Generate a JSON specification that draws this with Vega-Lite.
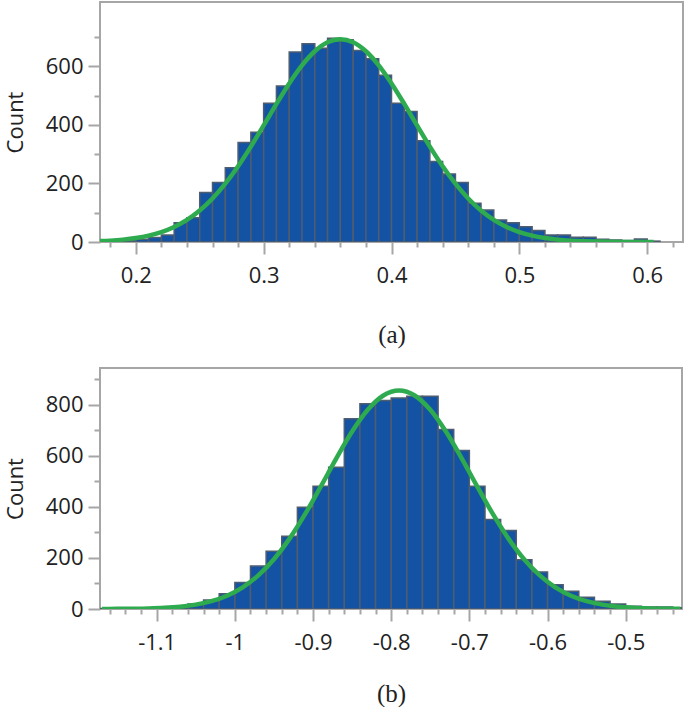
{
  "$schema": "https://vega.github.io/schema/vega-lite/v6.json",
  "padding": {"left": 3, "top": 1, "right": 2, "bottom": 0},
  "spacing": 19,
  "config": {
    "view": {"stroke": "#a6a6a6", "strokeWidth": 2},
    "axis": {
      "domain": false, "grid": false,
      "tickColor": "#a6a6a6", "tickWidth": 2,
      "labelFont": "Open Sans", "labelFontSize": 22, "labelColor": "#222222",
      "titleFont": "Open Sans", "titleFontSize": 22, "titleFontWeight": "normal", "titleColor": "#222222"
    }
  },
  "datasets": {
    "barsA": [
      {"x0": 0.17, "x1": 0.18, "count": 2}, {"x0": 0.18, "x1": 0.19, "count": 3},
      {"x0": 0.19, "x1": 0.20, "count": 5}, {"x0": 0.20, "x1": 0.21, "count": 9},
      {"x0": 0.21, "x1": 0.22, "count": 15}, {"x0": 0.22, "x1": 0.23, "count": 24},
      {"x0": 0.23, "x1": 0.24, "count": 66}, {"x0": 0.24, "x1": 0.25, "count": 83},
      {"x0": 0.25, "x1": 0.26, "count": 169}, {"x0": 0.26, "x1": 0.27, "count": 203},
      {"x0": 0.27, "x1": 0.28, "count": 254}, {"x0": 0.28, "x1": 0.29, "count": 340},
      {"x0": 0.29, "x1": 0.30, "count": 375}, {"x0": 0.30, "x1": 0.31, "count": 474},
      {"x0": 0.31, "x1": 0.32, "count": 533}, {"x0": 0.32, "x1": 0.33, "count": 649},
      {"x0": 0.33, "x1": 0.34, "count": 677}, {"x0": 0.34, "x1": 0.35, "count": 662},
      {"x0": 0.35, "x1": 0.36, "count": 696}, {"x0": 0.36, "x1": 0.37, "count": 691},
      {"x0": 0.37, "x1": 0.38, "count": 654}, {"x0": 0.38, "x1": 0.39, "count": 626},
      {"x0": 0.39, "x1": 0.40, "count": 570}, {"x0": 0.40, "x1": 0.41, "count": 474},
      {"x0": 0.41, "x1": 0.42, "count": 446}, {"x0": 0.42, "x1": 0.43, "count": 346},
      {"x0": 0.43, "x1": 0.44, "count": 275}, {"x0": 0.44, "x1": 0.45, "count": 232},
      {"x0": 0.45, "x1": 0.46, "count": 203}, {"x0": 0.46, "x1": 0.47, "count": 132},
      {"x0": 0.47, "x1": 0.48, "count": 109}, {"x0": 0.48, "x1": 0.49, "count": 75},
      {"x0": 0.49, "x1": 0.50, "count": 66}, {"x0": 0.50, "x1": 0.51, "count": 52},
      {"x0": 0.51, "x1": 0.52, "count": 39}, {"x0": 0.52, "x1": 0.53, "count": 24},
      {"x0": 0.53, "x1": 0.54, "count": 24}, {"x0": 0.54, "x1": 0.55, "count": 16},
      {"x0": 0.55, "x1": 0.56, "count": 16}, {"x0": 0.56, "x1": 0.57, "count": 9},
      {"x0": 0.57, "x1": 0.58, "count": 7}, {"x0": 0.58, "x1": 0.59, "count": 5},
      {"x0": 0.59, "x1": 0.60, "count": 10}, {"x0": 0.60, "x1": 0.61, "count": 3}
    ],
    "curveA": [
      {"x": 0.17, "y": 2.7}, {"x": 0.18, "y": 4.7}, {"x": 0.19, "y": 8.1}, {"x": 0.20, "y": 13.5},
      {"x": 0.21, "y": 21.7}, {"x": 0.22, "y": 33.9}, {"x": 0.23, "y": 51.4}, {"x": 0.24, "y": 75.6},
      {"x": 0.25, "y": 107.7}, {"x": 0.26, "y": 148.7}, {"x": 0.27, "y": 199.2}, {"x": 0.28, "y": 258.8},
      {"x": 0.29, "y": 326.0}, {"x": 0.30, "y": 398.2}, {"x": 0.31, "y": 471.7}, {"x": 0.32, "y": 541.7},
      {"x": 0.33, "y": 603.4}, {"x": 0.34, "y": 651.6}, {"x": 0.35, "y": 682.4}, {"x": 0.36, "y": 693},
      {"x": 0.37, "y": 682.4}, {"x": 0.38, "y": 651.6}, {"x": 0.39, "y": 603.4}, {"x": 0.40, "y": 541.7},
      {"x": 0.41, "y": 471.7}, {"x": 0.42, "y": 398.2}, {"x": 0.43, "y": 326.0}, {"x": 0.44, "y": 258.8},
      {"x": 0.45, "y": 199.2}, {"x": 0.46, "y": 148.7}, {"x": 0.47, "y": 107.7}, {"x": 0.48, "y": 75.6},
      {"x": 0.49, "y": 51.4}, {"x": 0.50, "y": 33.9}, {"x": 0.51, "y": 21.7}, {"x": 0.52, "y": 13.5},
      {"x": 0.53, "y": 8.1}, {"x": 0.54, "y": 4.7}, {"x": 0.55, "y": 2.7}, {"x": 0.56, "y": 1.5},
      {"x": 0.57, "y": 0.8}, {"x": 0.58, "y": 0.4}, {"x": 0.59, "y": 0.2}, {"x": 0.60, "y": 0.1},
      {"x": 0.605, "y": 0.07}
    ],
    "barsB": [
      {"x0": -1.18, "x1": -1.16, "count": 2}, {"x0": -1.16, "x1": -1.14, "count": 4},
      {"x0": -1.14, "x1": -1.12, "count": 5}, {"x0": -1.12, "x1": -1.10, "count": 5},
      {"x0": -1.10, "x1": -1.08, "count": 8}, {"x0": -1.08, "x1": -1.06, "count": 12},
      {"x0": -1.06, "x1": -1.04, "count": 20}, {"x0": -1.04, "x1": -1.02, "count": 35},
      {"x0": -1.02, "x1": -1.00, "count": 60}, {"x0": -1.00, "x1": -0.98, "count": 104},
      {"x0": -0.98, "x1": -0.96, "count": 168}, {"x0": -0.96, "x1": -0.94, "count": 226},
      {"x0": -0.94, "x1": -0.92, "count": 285}, {"x0": -0.92, "x1": -0.90, "count": 398},
      {"x0": -0.90, "x1": -0.88, "count": 480}, {"x0": -0.88, "x1": -0.86, "count": 555},
      {"x0": -0.86, "x1": -0.84, "count": 744}, {"x0": -0.84, "x1": -0.82, "count": 803},
      {"x0": -0.82, "x1": -0.80, "count": 816}, {"x0": -0.80, "x1": -0.78, "count": 826},
      {"x0": -0.78, "x1": -0.76, "count": 832}, {"x0": -0.76, "x1": -0.74, "count": 832},
      {"x0": -0.74, "x1": -0.72, "count": 702}, {"x0": -0.72, "x1": -0.70, "count": 620},
      {"x0": -0.70, "x1": -0.68, "count": 480}, {"x0": -0.68, "x1": -0.66, "count": 350},
      {"x0": -0.66, "x1": -0.64, "count": 307}, {"x0": -0.64, "x1": -0.62, "count": 193},
      {"x0": -0.62, "x1": -0.60, "count": 145}, {"x0": -0.60, "x1": -0.58, "count": 95},
      {"x0": -0.58, "x1": -0.56, "count": 69}, {"x0": -0.56, "x1": -0.54, "count": 46},
      {"x0": -0.54, "x1": -0.52, "count": 30}, {"x0": -0.52, "x1": -0.50, "count": 20},
      {"x0": -0.50, "x1": -0.48, "count": 11}, {"x0": -0.48, "x1": -0.46, "count": 8},
      {"x0": -0.46, "x1": -0.44, "count": 8}, {"x0": -0.44, "x1": -0.42, "count": 5}
    ],
    "curveB": [
      {"x": -1.17, "y": 0.2}, {"x": -1.15, "y": 0.5}, {"x": -1.13, "y": 1.1}, {"x": -1.11, "y": 2.3},
      {"x": -1.09, "y": 4.7}, {"x": -1.07, "y": 9.2}, {"x": -1.05, "y": 17.2}, {"x": -1.03, "y": 30.6},
      {"x": -1.01, "y": 52.1}, {"x": -0.99, "y": 84.7}, {"x": -0.97, "y": 131.4}, {"x": -0.95, "y": 194.6},
      {"x": -0.93, "y": 275.4}, {"x": -0.91, "y": 371.9}, {"x": -0.89, "y": 479.6}, {"x": -0.87, "y": 590.6},
      {"x": -0.85, "y": 694.4}, {"x": -0.83, "y": 779.5}, {"x": -0.81, "y": 835.5}, {"x": -0.79, "y": 855},
      {"x": -0.77, "y": 835.5}, {"x": -0.75, "y": 779.5}, {"x": -0.73, "y": 694.4}, {"x": -0.71, "y": 590.6},
      {"x": -0.69, "y": 479.6}, {"x": -0.67, "y": 371.9}, {"x": -0.65, "y": 275.4}, {"x": -0.63, "y": 194.6},
      {"x": -0.61, "y": 131.4}, {"x": -0.59, "y": 84.7}, {"x": -0.57, "y": 52.1}, {"x": -0.55, "y": 30.6},
      {"x": -0.53, "y": 17.2}, {"x": -0.51, "y": 9.2}, {"x": -0.49, "y": 4.7}, {"x": -0.47, "y": 2.3},
      {"x": -0.45, "y": 1.1}, {"x": -0.43, "y": 0.5}
    ]
  },
  "vconcat": [
    {
      "width": 583, "height": 240,
      "resolve": {"axis": {"x": "independent", "y": "independent"}},
      "layer": [
        {
          "data": {"name": "barsA"},
          "mark": {"type": "bar", "fill": "#1453a3", "stroke": "#4e5d6f", "strokeWidth": 1.5, "clip": true},
          "encoding": {
            "x": {"field": "x0", "type": "quantitative",
              "scale": {"domain": [0.172, 0.628], "nice": false, "zero": false},
              "axis": {"values": [0.2, 0.3, 0.4, 0.5, 0.6], "tickSize": 12, "labelPadding": 11,
                "labelExpr": "'' + datum.value",
                "title": "(a)", "titleFont": "Liberation Serif", "titleFontSize": 25, "titlePadding": 36}},
            "x2": {"field": "x1"},
            "y": {"field": "count", "type": "quantitative",
              "scale": {"domain": [0, 820], "nice": false},
              "axis": {"values": [0, 200, 400, 600], "tickSize": 12, "labelPadding": 5,
                "title": "Count", "titlePadding": 18}},
            "y2": {"datum": 0}
          }
        },
        {
          "data": {"name": "curveA"},
          "mark": {"type": "line", "color": "#2eaa4f", "strokeWidth": 4.5, "clip": true, "interpolate": "monotone"},
          "encoding": {
            "x": {"field": "x", "type": "quantitative",
              "axis": {"orient": "bottom", "values": [0.18, 0.22, 0.24, 0.26, 0.28, 0.32, 0.34, 0.36, 0.38, 0.42, 0.44, 0.46, 0.48, 0.52, 0.54, 0.56, 0.58, 0.62],
                "tickSize": 5, "labels": false, "title": null}},
            "y": {"field": "y", "type": "quantitative",
              "axis": {"orient": "left", "values": [100, 300, 500, 700], "tickSize": 6, "labels": false, "title": null}}
          }
        }
      ]
    },
    {
      "width": 582, "height": 241,
      "resolve": {"axis": {"x": "independent", "y": "independent"}},
      "layer": [
        {
          "data": {"name": "barsB"},
          "mark": {"type": "bar", "fill": "#1453a3", "stroke": "#4e5d6f", "strokeWidth": 1.5, "clip": true},
          "encoding": {
            "x": {"field": "x0", "type": "quantitative",
              "scale": {"domain": [-1.1725, -0.428], "nice": false, "zero": false},
              "axis": {"values": [-1.1, -1.0, -0.9, -0.8, -0.7, -0.6, -0.5], "tickSize": 12, "labelPadding": 11,
                "labelExpr": "'' + datum.value",
                "title": "(b)", "titleFont": "Liberation Serif", "titleFontSize": 25, "titlePadding": 28}},
            "x2": {"field": "x1"},
            "y": {"field": "count", "type": "quantitative",
              "scale": {"domain": [0, 943], "nice": false},
              "axis": {"values": [0, 200, 400, 600, 800], "tickSize": 12, "labelPadding": 5,
                "title": "Count", "titlePadding": 18}},
            "y2": {"datum": 0}
          }
        },
        {
          "data": {"name": "curveB"},
          "mark": {"type": "line", "color": "#2eaa4f", "strokeWidth": 4.5, "clip": true, "interpolate": "monotone"},
          "encoding": {
            "x": {"field": "x", "type": "quantitative",
              "axis": {"orient": "bottom", "values": [-1.16, -1.14, -1.12, -1.08, -1.06, -1.04, -1.02, -0.98, -0.96, -0.94, -0.92, -0.88, -0.86, -0.84, -0.82, -0.78, -0.76, -0.74, -0.72, -0.68, -0.66, -0.64, -0.62, -0.58, -0.56, -0.54, -0.52, -0.48, -0.46, -0.44],
                "tickSize": 5, "labels": false, "title": null}},
            "y": {"field": "y", "type": "quantitative",
              "axis": {"orient": "left", "values": [100, 300, 500, 700, 900], "tickSize": 6, "labels": false, "title": null}}
          }
        }
      ]
    }
  ]
}
